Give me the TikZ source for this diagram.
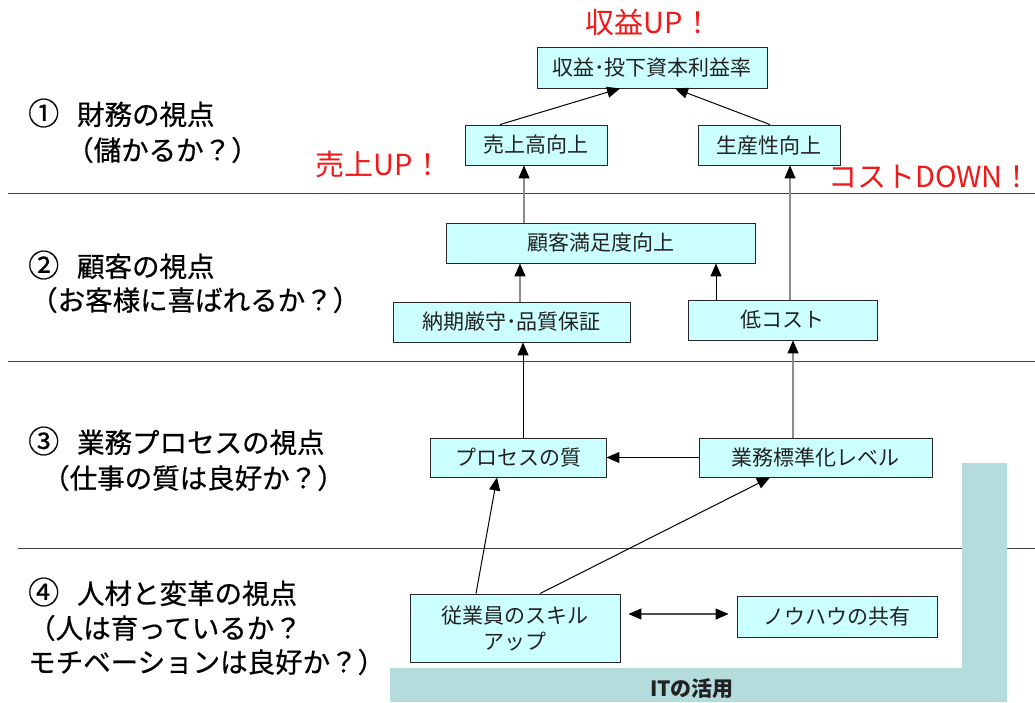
\documentclass[tikz,border=0pt]{standalone}
\usepackage{fontspec}
\setmainfont{Noto Sans CJK JP}
\newfontfamily\lblfont[FakeBold=0.6]{Noto Sans CJK JP}
\usetikzlibrary{arrows.meta}
\definecolor{boxfill}{HTML}{CCFFFF}
\definecolor{itfill}{HTML}{B4DCDC}
\definecolor{redtxt}{HTML}{F01818}
\definecolor{txt}{HTML}{222222}
\begin{document}
\begin{tikzpicture}[x=1pt,y=-1pt,
  kbox/.style={draw=black!85, line width=0.9pt, fill=boxfill, text=txt, inner sep=0pt,
    font=\fontsize{21}{26}\selectfont, align=center},
  persp/.style={anchor=west, text=black, inner sep=0pt, font=\lblfont\fontsize{27.5}{32}\selectfont},
  redlbl/.style={text=redtxt, inner sep=0pt, font=\fontsize{29}{34}\selectfont},
  sep/.style={draw=black!75, line width=1pt},
  arr/.style={draw=black, line width=1pt, -{Triangle[width=11pt,length=13pt,color=black]}},
  garr/.style={draw=black!45, line width=1.2pt, -{Triangle[width=11pt,length=13pt,color=black]}},
  darr/.style={draw=black!70, line width=1.2pt, {Triangle[width=11pt,length=13pt,color=black]}-{Triangle[width=11pt,length=13pt,color=black]}}
]
\useasboundingbox (0,0) rectangle (1035,702);
\fill[white] (0,0) rectangle (1035,702);

% separator lines
\draw[sep] (8,193) -- (1035,193);
\draw[sep] (8,361) -- (1035,361);
\draw[sep] (18,548) -- (1035,548);

% IT band
\fill[itfill] (390,668) -- (962,668) -- (962,463) -- (1007,463) -- (1007,702) -- (390,702) -- cycle;
\node[font=\fontsize{21}{26}\selectfont\bfseries, text=txt, inner sep=0pt] (it) at (692,689) {ITの活用};

% perspective labels
\node[persp] (p1a) at (28,113) {{\fontsize{31}{32}\selectfont ①}\hspace{0.65em}財務の視点};
\node[persp] (p1b) at (66,150) {（儲かるか？）};
\node[persp] (p2a) at (28,265) {{\fontsize{31}{32}\selectfont ②}\hspace{0.65em}顧客の視点};
\node[persp] (p2b) at (30,300) {（お客様に喜ばれるか？）};
\node[persp] (p3a) at (28,441) {{\fontsize{31}{32}\selectfont ③}\hspace{0.65em}業務プロセスの視点};
\node[persp] (p3b) at (42,478) {（仕事の質は良好か？）};
\node[persp] (p4a) at (28,592) {{\fontsize{31}{32}\selectfont ④}\hspace{0.65em}人材と変革の視点};
\node[persp] (p4b) at (28,628) {（人は育っているか？};
\node[persp] (p4c) at (28,662) {モチベーションは良好か？）};

% red labels
\node[redlbl] (r1) at (649,22) {収益UP！};
\node[redlbl] (r2) at (379,164) {売上UP！};
\node[redlbl] (r3) at (930,177) {コストDOWN！};

% boxes
\node[kbox, minimum width=230pt, minimum height=41pt] (top) at (652,67.5) {収益･投下資本利益率};
\node[kbox, minimum width=142pt, minimum height=40pt] (uri) at (536,145) {売上高向上};
\node[kbox, minimum width=142pt, minimum height=40pt] (sei) at (769,145) {生産性向上};
\node[kbox, minimum width=309pt, minimum height=40pt] (kok) at (600.5,243) {顧客満足度向上};
\node[kbox, minimum width=237pt, minimum height=40pt] (nou) at (511.5,322) {納期厳守･品質保証};
\node[kbox, minimum width=189pt, minimum height=40pt] (tei) at (782.5,320) {低コスト};
\node[kbox, minimum width=176pt, minimum height=39pt] (pro) at (518,457.5) {プロセスの質};
\node[kbox, minimum width=233pt, minimum height=39pt] (gyo) at (815.5,457.5) {業務標準化レベル};
\node[kbox, minimum width=210pt, minimum height=68pt] (jug) at (515,628) {従業員のスキル\\アップ};
\node[kbox, minimum width=200pt, minimum height=41pt] (kno) at (837,616.5) {ノウハウの共有};

% connectors
\draw[arr] ([xshift=-36pt]uri.north) -- ([xshift=-32pt]top.south);
\draw[arr] ([xshift=1pt]sei.north) -- ([xshift=23pt]top.south);
\draw[garr] ([xshift=-76.5pt]kok.north) -- ([xshift=-12pt]uri.south);
\draw[garr] ([xshift=7.5pt]tei.north) -- ([xshift=21pt]sei.south);
\draw[garr] ([xshift=8.5pt]nou.north) -- ([xshift=-80.5pt]kok.south);
\draw[arr] ([xshift=-66.5pt]tei.north) -- ([xshift=115.5pt]kok.south);
\draw[arr] ([xshift=5pt]pro.north) -- ([xshift=11.5pt]nou.south);
\draw[garr] ([xshift=-22.5pt]gyo.north) -- ([xshift=10.5pt]tei.south);
\draw[arr] (gyo.west) -- (pro.east);
\draw[arr] ([xshift=-39pt]jug.north) -- ([xshift=-21pt]pro.south);
\draw[arr] ([xshift=25pt]jug.north) -- ([xshift=-45.5pt]gyo.south);
\draw[darr, shorten <=8pt, shorten >=8pt] ([yshift=14pt]jug.east) -- ([yshift=2.5pt]kno.west);
\end{tikzpicture}
\end{document}
